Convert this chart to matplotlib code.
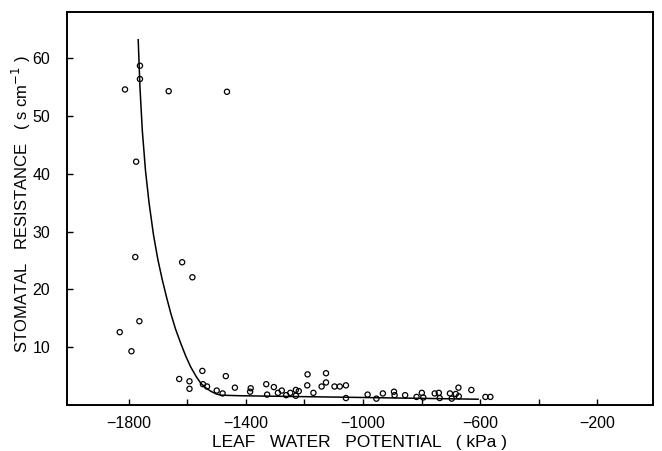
import numpy as np
import matplotlib
matplotlib.use('Agg')
import matplotlib.pyplot as plt

# 读取自图中的散点 (kPa, s cm^-1)
leaf_potential = [-1812, -1761, -1761, -1663, -1464, -1774, -1777, -1617, -1582, -1763,
                  -1830, -1790, -1627, -1592, -1592, -1548, -1546, -1532, -1499, -1479,
                  -1468, -1437, -1383, -1385, -1330, -1327, -1304, -1290, -1277, -1262,
                  -1248, -1229, -1229, -1219, -1189, -1190, -1169, -1141, -1126, -1126,
                  -1097, -1079, -1058, -1058, -984, -954, -932, -894, -892, -856,
                  -817, -799, -794, -755, -741, -738, -703, -697, -683, -674,
                  -673, -630, -582, -565]
resistance = [54.6, 58.7, 56.4, 54.3, 54.2, 42.1, 25.6, 24.7, 22.1, 14.5,
              12.6, 9.3, 4.5, 4.1, 2.8, 5.9, 3.6, 3.2, 2.5, 2.0,
              5.0, 3.0, 2.9, 2.3, 3.6, 1.8, 3.1, 2.1, 2.5, 1.7,
              2.1, 2.6, 1.6, 2.4, 5.3, 3.4, 2.1, 3.2, 3.9, 5.5,
              3.2, 3.2, 3.4, 1.2, 1.8, 1.1, 2.0, 2.3, 1.7, 1.7,
              1.4, 2.1, 1.3, 2.0, 2.1, 1.2, 2.0, 1.1, 1.9, 3.0,
              1.5, 2.6, 1.4, 1.4]

# 拟合曲线
curve_x = [-1767, -1761, -1753, -1742, -1730, -1715, -1700, -1685, -1670, -1656,
           -1640, -1622, -1605, -1588, -1570, -1554, -1537, -1520, -1500, -1485,
           -1417, -1000, -607]
curve_y = [63.2, 55.0, 47.5, 40.5, 35.0, 29.5, 25.2, 21.7, 18.6, 15.9,
           13.2, 10.7, 8.5, 6.6, 5.0, 3.8, 3.0, 2.4, 1.9, 1.7,
           1.6, 1.3, 1.0]

major_ticks = [-1800, -1400, -1000, -600, -200]
minor_ticks = [-1600, -1200, -800, -400]
y_ticks = [10, 20, 30, 40, 50, 60]

plt.rcParams['font.family'] = ['Liberation Sans', 'DejaVu Sans']

fig = plt.figure(figsize=(6.62, 4.51), dpi=100)
ax = fig.add_axes([67 / 662, 46 / 451, (653 - 67) / 662, (405 - 12) / 451])

ax.plot(curve_x, curve_y, color='black', linewidth=1.1)
ax.scatter(leaf_potential, resistance, s=14, facecolors='none',
           edgecolors='black', linewidths=0.9, zorder=3)

ax.set_xlim(-2010, -10)
ax.set_ylim(0, 68)

ax.set_xticks(major_ticks)
ax.set_xticks(minor_ticks, minor=True)
ax.set_xticklabels(['\u22121800', '\u22121400', '\u22121000', '\u2212600', '\u2212200'])
ax.set_yticks(y_ticks)

ax.tick_params(axis='both', which='both', direction='in', length=4, width=1,
               labelsize=11.5, colors='black')
ax.tick_params(axis='x', pad=8)
ax.tick_params(axis='y', pad=12)

for sp in ax.spines.values():
    sp.set_linewidth(1.4)

ax.set_xlabel('LEAF   WATER   POTENTIAL   ( kPa )', fontsize=12.5, labelpad=3)
ax.set_ylabel('STOMATAL   RESISTANCE   ( s cm$^{-1}$ )', fontsize=12)
ax.yaxis.set_label_coords(-0.058, 0.51)

fig.savefig('out.png', dpi=100)
